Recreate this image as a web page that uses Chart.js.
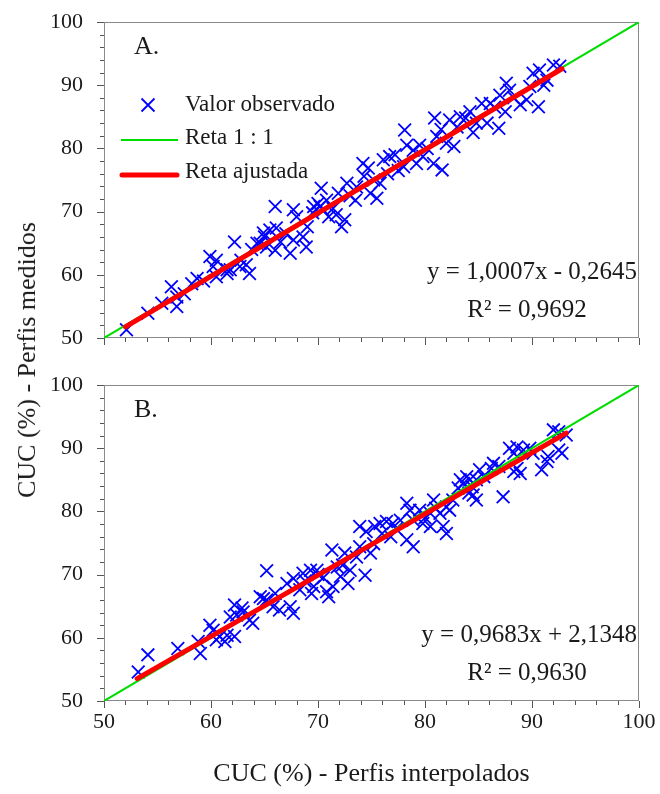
<!DOCTYPE html>
<html>
<head>
<meta charset="utf-8">
<script src="https://cdn.jsdelivr.net/npm/chart.js@4.4.0/dist/chart.umd.min.js"></script>
<style>
  body { margin: 0; background: #fff; }
  #page { position: relative; width: 660px; height: 794px; overflow: hidden; font-family: "Liberation Serif", "Times New Roman", serif; }
  #panelA { position: absolute; left: 0; top: 0; }
  #panelB { position: absolute; left: 0; top: 360px; }
  #yTitle {
    position: absolute; left: 27px; top: 360px;
    transform: translate(-50%, -50%) rotate(-90deg);
    white-space: nowrap; font-size: 26px; color: #1a1a1a;
  }
</style>
</head>
<body>
<div id="page">
  <canvas id="panelA" width="660" height="360"></canvas>
  <canvas id="panelB" width="660" height="434"></canvas>
  <div id="yTitle">CUC (%) - Perfis medidos</div>
</div>
<script>
// A. valores observados (x = interpolados, y = medidos)
const interpA = [52.1, 54.1, 55.4, 56.8, 56.3, 56.8, 57.5, 58.2, 58.7, 59.3, 59.9, 60.2, 60.5, 60.5, 61.5, 61.5, 61.8, 62.2, 62.7, 62.8,
  63.3, 63.6, 63.8, 64.3, 64.6, 64.9, 65.0, 65.2, 65.5, 66.0, 66.0, 66.1, 66.5, 67.0, 67.4, 67.7, 67.7, 68.0, 68.6, 68.9,
  69.0, 69.5, 69.6, 70.0, 70.2, 70.3, 70.5, 70.8, 71.0, 71.4, 71.7, 71.9, 72.2, 72.5, 72.7, 73.0, 73.5, 73.6, 74.2, 74.3,
  74.7, 74.9, 75.2, 75.5, 75.8, 76.1, 76.5, 76.7, 77.2, 77.5, 78.0, 78.1, 78.3, 78.9, 79.2, 79.5, 79.8, 80.2, 80.8, 80.9,
  81.1, 81.5, 81.6, 82.0, 82.3, 82.7, 83.0, 83.3, 83.8, 84.2, 84.5, 84.8, 85.3, 85.8, 86.1, 86.5, 86.9, 87.0, 87.5, 87.6,
  87.9, 88.3, 88.9, 89.5, 89.8, 90.1, 90.6, 90.7, 91.1, 91.4, 92.0, 92.6];
const medidosA = [51.3, 53.9, 55.5, 55.0, 58.1, 56.5, 57.0, 58.6, 59.4, 59.0, 62.9, 61.3, 62.3, 59.7, 60.2, 60.8, 60.8, 65.2, 61.3, 62.3,
  61.6, 60.2, 64.0, 65.0, 65.0, 66.6, 66.0, 64.4, 67.1, 70.8, 63.9, 67.4, 65.2, 66.5, 63.4, 70.3, 65.5, 69.2, 66.0, 64.4,
  67.6, 69.8, 70.8, 71.3, 70.8, 73.7, 70.2, 71.8, 69.2, 70.5, 69.5, 72.9, 67.6, 68.7, 74.5, 72.5, 71.8, 73.9, 77.6, 75.6,
  76.9, 72.9, 75.0, 72.1, 74.5, 78.2, 76.0, 78.7, 79.0, 76.5, 77.1, 82.9, 80.5, 79.7, 77.6, 80.5, 78.7, 80.0, 77.6, 84.8,
  81.9, 83.0, 76.6, 80.8, 84.5, 80.3, 83.4, 85.0, 84.8, 85.8, 82.5, 84.0, 87.1, 84.0, 87.1, 86.5, 83.2, 88.4, 85.8, 90.3,
  89.2, 88.0, 86.9, 87.7, 89.8, 91.9, 86.6, 92.4, 90.0, 90.8, 93.2, 93.0];

// B.
const interpB = [53.2, 54.1, 56.9, 58.8, 59.0, 59.9, 60.2, 60.5, 60.8, 61.3, 61.5, 61.8, 62.2, 62.2, 62.4, 62.9, 63.0, 63.6, 63.9, 64.6,
  64.9, 65.2, 65.2, 65.8, 66.0, 66.4, 67.1, 67.4, 67.7, 67.7, 68.3, 68.6, 68.8, 69.3, 69.4, 69.6, 69.9, 70.0, 70.5, 70.8,
  71.0, 71.3, 71.4, 71.8, 72.1, 72.3, 72.5, 72.8, 73.0, 73.6, 73.9, 73.9, 74.4, 74.5, 74.9, 75.2, 75.3, 75.8, 76.0, 76.4,
  76.8, 77.0, 77.3, 77.7, 78.3, 78.3, 78.6, 78.9, 78.9, 79.5, 79.8, 80.0, 80.5, 80.5, 80.8, 81.0, 81.4, 81.7, 82.0, 82.0,
  82.3, 82.6, 83.1, 83.3, 83.6, 83.9, 84.1, 84.2, 84.4, 84.5, 84.8, 84.8, 85.1, 85.5, 86.2, 86.4, 86.9, 87.3, 87.9, 88.3,
  88.3, 88.6, 88.6, 88.9, 89.2, 89.8, 90.1, 90.9, 91.4, 91.5, 92.0, 92.5, 92.5, 92.8, 93.2];
const medidosB = [54.6, 57.3, 58.3, 59.4, 57.5, 62.0, 61.2, 59.7, 60.2, 59.4, 60.4, 63.3, 65.2, 60.2, 63.6, 64.7, 64.1, 62.8, 62.3, 66.5,
  66.2, 70.6, 66.0, 64.9, 67.0, 64.4, 68.6, 64.9, 69.4, 63.9, 67.6, 70.2, 69.0, 70.7, 67.0, 68.1, 70.7, 70.0, 69.5, 67.3,
  66.5, 73.9, 68.1, 71.2, 69.7, 71.5, 73.4, 68.6, 70.7, 72.8, 77.6, 74.4, 69.9, 76.8, 73.4, 74.9, 77.6, 78.1, 76.5, 78.4,
  76.0, 78.1, 77.2, 78.6, 81.3, 75.5, 80.2, 74.4, 78.6, 80.2, 78.1, 79.0, 77.6, 79.7, 81.8, 80.5, 79.7, 77.6, 76.5, 80.7,
  80.2, 81.8, 83.7, 85.0, 84.4, 85.5, 82.9, 85.0, 83.9, 82.6, 81.8, 85.0, 86.6, 85.5, 86.8, 87.6, 87.1, 82.3, 90.0, 89.2,
  86.3, 90.2, 86.8, 86.0, 89.7, 90.0, 89.2, 86.6, 87.9, 88.7, 92.9, 92.6, 89.7, 89.2, 92.1];

// retas ajustadas: y = a*x + b, desenhadas entre xIni e xFim
const fitA = { a: 1.0007, b: -0.2645, xIni: 52.0, xFim: 92.8 };
const fitB = { a: 0.9683, b: 2.1348, xIni: 53.1, xFim: 93.2 };
const axisMin = 50, axisMax = 100, majorStep = 10, minorStep = 2;

Chart.defaults.font.family = '"Liberation Serif", "Times New Roman", serif';
Chart.defaults.color = '#1a1a1a';

const serif = '"Liberation Serif", "Times New Roman", serif';

// moldura e marcas menores dos eixos
const framePlugin = {
  id: 'frame',
  beforeDatasetsDraw(chart) {
    const { ctx, chartArea: a, scales: { x, y } } = chart;
    ctx.save();
    ctx.strokeStyle = '#8a8a8a';
    ctx.lineWidth = 1;
    ctx.strokeRect(a.left + 0.5, a.top + 0.5, a.width - 1, a.height - 1);
    ctx.strokeStyle = '#555';
    ctx.beginPath();
    for (let v = axisMin; v <= axisMax; v += minorStep) {
      const len = v % majorStep === 0 ? 7 : 4;
      const px = Math.round(x.getPixelForValue(v)) + 0.5;
      ctx.moveTo(px, a.bottom);
      ctx.lineTo(px, a.bottom + len);
      const py = Math.round(y.getPixelForValue(v)) + 0.5;
      ctx.moveTo(a.left, py);
      ctx.lineTo(a.left - len, py);
    }
    ctx.stroke();
    ctx.restore();
  }
};

// letra do painel, equação, R² e legenda
const notesPlugin = {
  id: 'notes',
  afterDraw(chart, args, opts) {
    const { ctx, chartArea: a } = chart;
    ctx.save();
    ctx.fillStyle = '#1a1a1a';
    ctx.textBaseline = 'middle';
    ctx.textAlign = 'left';
    ctx.font = '26px ' + serif;
    ctx.fillText(opts.tag, a.left + 30, a.top + 25);

    ctx.font = '25px ' + serif;
    ctx.textAlign = 'right';
    ctx.fillText(opts.equation, a.right - 2, a.bottom - 66);
    ctx.textAlign = 'center';
    ctx.fillText(opts.r2, a.right - 112, a.bottom - 28);

    if (opts.legend) {
      const lx = a.left, ty = a.top;
      // marcador X
      ctx.strokeStyle = '#0000ff';
      ctx.lineWidth = 1.8;
      ctx.beginPath();
      ctx.moveTo(lx + 44 - 6.5, ty + 83 - 6.5); ctx.lineTo(lx + 44 + 6.5, ty + 83 + 6.5);
      ctx.moveTo(lx + 44 + 6.5, ty + 83 - 6.5); ctx.lineTo(lx + 44 - 6.5, ty + 83 + 6.5);
      ctx.stroke();
      // reta 1:1
      ctx.strokeStyle = '#00dd00';
      ctx.lineWidth = 2;
      ctx.beginPath();
      ctx.moveTo(lx + 17, ty + 118); ctx.lineTo(lx + 74, ty + 118);
      ctx.stroke();
      // reta ajustada
      ctx.strokeStyle = '#ff0000';
      ctx.lineWidth = 5;
      ctx.lineCap = 'round';
      ctx.beginPath();
      ctx.moveTo(lx + 18, ty + 153); ctx.lineTo(lx + 73, ty + 153);
      ctx.stroke();

      ctx.font = '23px ' + serif;
      ctx.textAlign = 'left';
      ctx.fillText('Valor observado', lx + 81, ty + 83);
      ctx.fillText('Reta 1 : 1', lx + 81, ty + 116);
      ctx.fillText('Reta ajustada', lx + 81, ty + 150);
    }
    ctx.restore();
  }
};

// marcas invisíveis: só reservam o espaço entre eixo e rótulos
function hiddenTicks(len) {
  return { display: true, drawOnChartArea: false, drawTicks: true, tickLength: len, color: 'rgba(0,0,0,0)' };
}

function makePanel(canvasId, xs, ys, fit, notes, showX, topPad, xHeight) {
  const points = xs.map((x, i) => ({ x: x, y: ys[i] }));
  const fitLine = [fit.xIni, fit.xFim].map(x => ({ x: x, y: fit.a * x + fit.b }));
  const ctx = document.getElementById(canvasId).getContext('2d');
  return new Chart(ctx, {
    type: 'scatter',
    data: {
      datasets: [
        {
          label: 'Reta ajustada',
          data: fitLine,
          showLine: true,
          borderColor: '#ff0000',
          borderWidth: 5,
          borderCapStyle: 'round',
          pointRadius: 0,
          order: 0
        },
        {
          label: 'Reta 1 : 1',
          data: [{ x: axisMin, y: axisMin }, { x: axisMax, y: axisMax }],
          showLine: true,
          borderColor: '#00dd00',
          borderWidth: 2,
          pointRadius: 0,
          order: 1
        },
        {
          label: 'Valor observado',
          data: points,
          pointStyle: 'crossRot',
          pointRadius: 9,
          pointBorderWidth: 1.8,
          borderColor: '#0000ff',
          backgroundColor: '#0000ff',
          order: 2
        }
      ]
    },
    options: {
      responsive: false,
      animation: false,
      devicePixelRatio: 1,
      layout: { padding: { top: topPad, right: 21, left: 0, bottom: 0 } },
      scales: {
        x: {
          type: 'linear',
          min: axisMin,
          max: axisMax,
          grid: hiddenTicks(8),
          border: { display: false },
          ticks: {
            display: showX,
            stepSize: majorStep,
            padding: 0,
            font: { size: 22 },
            color: '#1a1a1a',
            maxRotation: 0
          },
          title: {
            display: showX,
            text: 'CUC (%) - Perfis interpolados',
            font: { size: 26 },
            color: '#1a1a1a',
            padding: { top: 0, bottom: 4 }
          },
          afterFit(scale) { scale.height = xHeight; }
        },
        y: {
          type: 'linear',
          min: axisMin,
          max: axisMax,
          grid: hiddenTicks(21),
          border: { display: false },
          ticks: {
            stepSize: majorStep,
            padding: 0,
            font: { size: 22 },
            color: '#1a1a1a'
          },
          afterFit(scale) { scale.width = 104; }
        }
      },
      plugins: {
        legend: { display: false },
        tooltip: { enabled: false },
        notes: notes
      }
    },
    plugins: [framePlugin, notesPlugin]
  });
}

makePanel('panelA', interpA, medidosA, fitA,
  { tag: 'A.', equation: 'y = 1,0007x - 0,2645', r2: 'R\u00B2 = 0,9692', legend: true },
  false, 22, 22);

makePanel('panelB', interpB, medidosB, fitB,
  { tag: 'B.', equation: 'y = 0,9683x + 2,1348', r2: 'R\u00B2 = 0,9630', legend: false },
  true, 25, 93);
</script>
</body>
</html>
